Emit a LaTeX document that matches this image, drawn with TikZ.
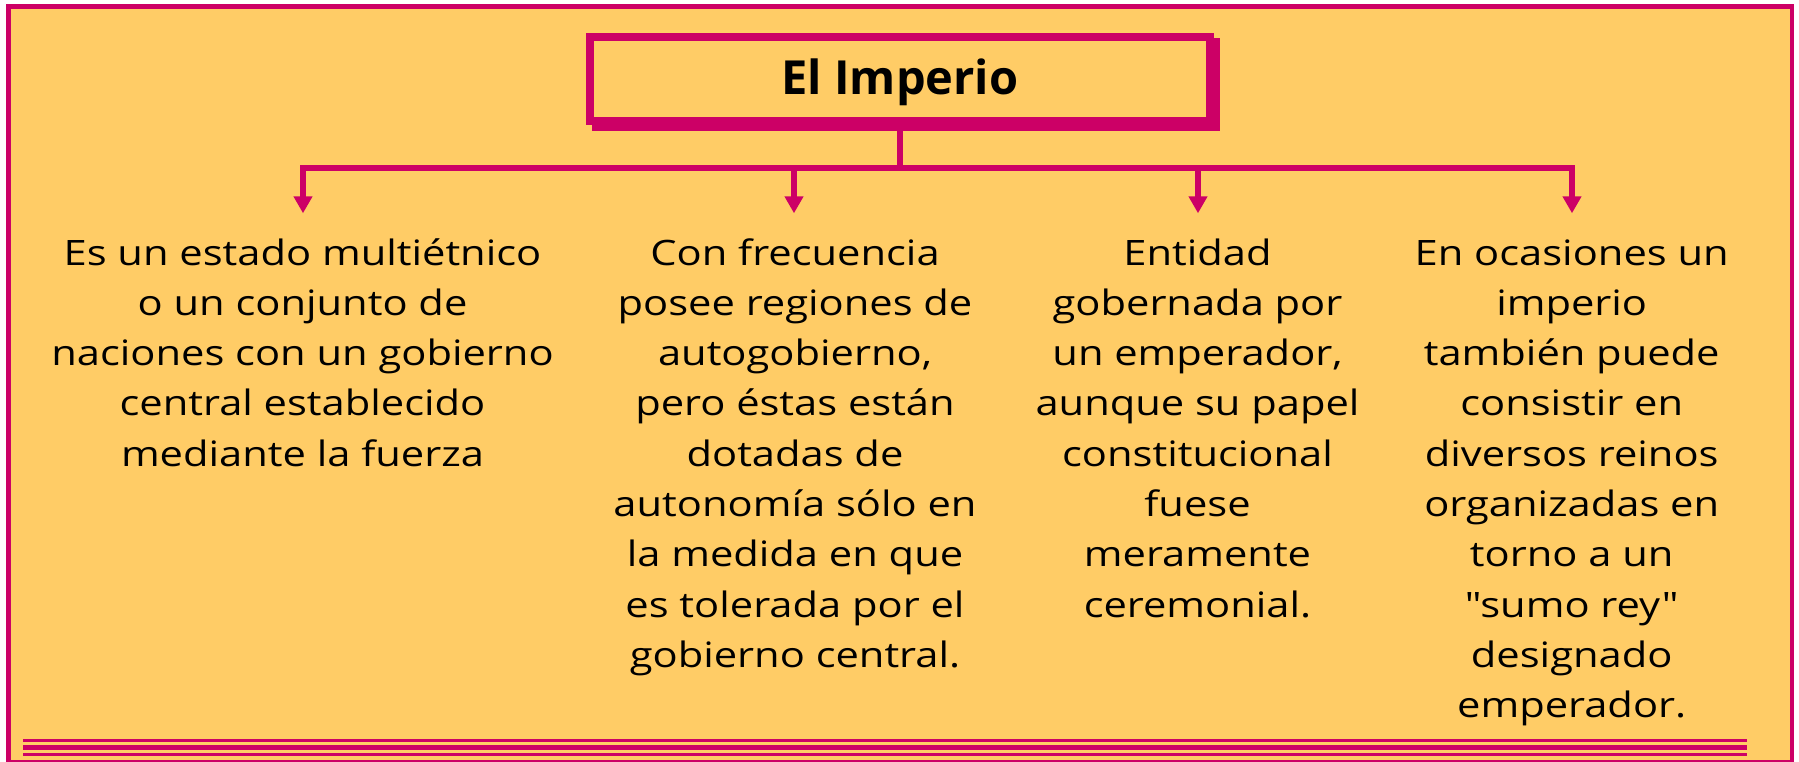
\documentclass[tikz,border=0pt]{standalone}
\usepackage{fontspec}
\setmainfont{Open Sans}
\newfontfamily\bodyfont{Open Sans}[FakeStretch=1.19]
\usetikzlibrary{arrows.meta}
\definecolor{mag}{HTML}{CC0066}
\definecolor{sand}{HTML}{FFCC66}
\begin{document}
\begin{tikzpicture}[x=1pt,y=-1pt,
  bodytext/.style={font=\bodyfont\fontsize{35}{50.3}\selectfont, align=center, inner sep=0pt, anchor=base, text=black},
  titlebox/.style={draw=mag, line width=8pt, fill=sand, minimum width=620pt, minimum height=84.6pt, inner sep=0pt, text height=35pt, text depth=5pt, font=\fontsize{47}{56}\selectfont\bfseries},
  link/.style={draw=mag, line width=5.7pt},
  down/.style={draw=mag, line width=5.6pt, -{Triangle[length=17pt,width=18pt]}},
  rule/.style={draw=mag},
]
\useasboundingbox (0,0) rectangle (1799,761);
\fill[white] (0,0) rectangle (1799,761);
\draw[mag, line width=4.5pt, fill=sand] (8.3,6.7) rectangle (1792,762);
% bottom rules
\draw[rule, line width=3pt] (23,740.5) -- (1747,740.5);
\draw[rule, line width=5.3pt] (23,747.4) -- (1747,747.4);
\draw[rule, line width=3pt] (23,754.2) -- (1747,754.2);
% title with shadow
\fill[mag] (591.5,38.2) rectangle (1219.5,130.8);
\node[titlebox] (title) at (900,79) {El Imperio};
% connectors
\coordinate (j) at (900,168);
\coordinate (a1) at (303,213.3);
\coordinate (a2) at (794,213.3);
\coordinate (a3) at (1198,213.3);
\coordinate (a4) at (1572,213.3);
\draw[link] (title.south) -- (j);
\draw[link, line cap=rect] (a1 |- j) -- (a4 |- j);
\foreach \k in {a1,a2,a3,a4}{\draw[down] (\k |- j) -- (\k);}
% columns (base anchor = baseline of the last line)
\node[bodytext] (c1) at (302.5,466.2) {Es un estado multiétnico\\o un conjunto de\\naciones con un gobierno\\central establecido\\mediante la fuerza};
\node[bodytext] (c2) at (795,667.4) {Con frecuencia\\posee regiones de\\autogobierno,\\pero éstas están\\dotadas de\\autonomía sólo en\\la medida en que\\es tolerada por el\\gobierno central.};
\node[bodytext] (c3) at (1197.5,617.1) {Entidad\\gobernada por\\un emperador,\\aunque su papel\\constitucional\\fuese\\meramente\\ceremonial.};
\node[bodytext] (c4) at (1571.7,717.7) {En ocasiones un\\imperio\\también puede\\consistir en\\diversos reinos\\organizadas en\\torno a un\\"sumo rey"\\designado\\emperador.};
\end{tikzpicture}
\end{document}
